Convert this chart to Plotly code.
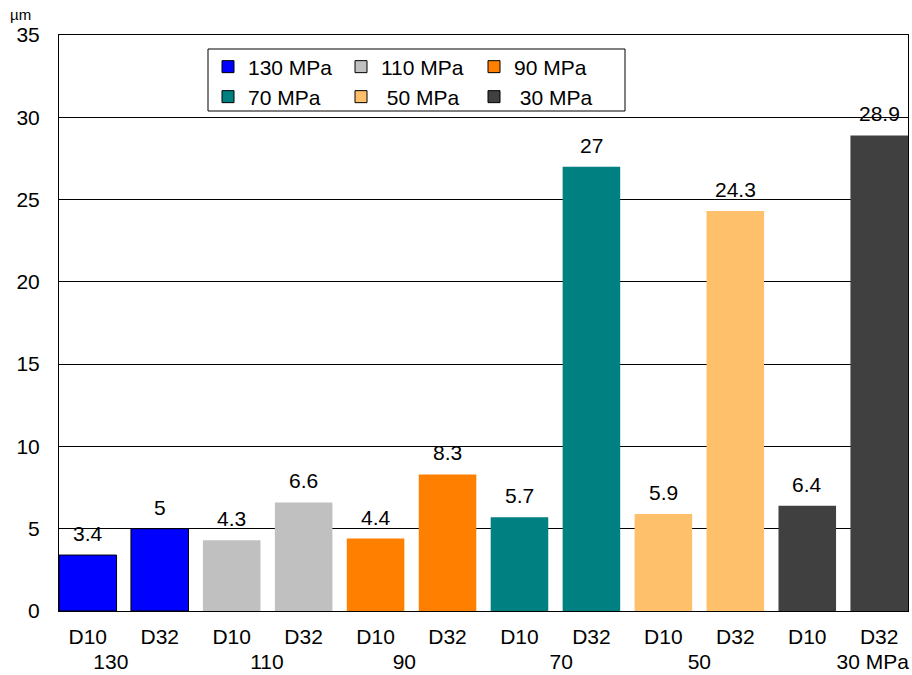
import plotly.graph_objects as go

pressures = ["130", "110", "90", "70", "50", "30 MPa"]
legend_names = ["130 MPa", "110 MPa", "90 MPa", "70 MPa", " 50 MPa", " 30 MPa"]
sizes = ["D10", "D32"]
d10 = [3.4, 4.3, 4.4, 5.7, 5.9, 6.4]
d32 = [5, 6.6, 8.3, 27, 24.3, 28.9]
colors = ["#0000FF", "#C0C0C0", "#FF8000", "#008080", "#FFC06C", "#404040"]
outline = [1, 0, 0, 0, 0, 0]

FS = 21
FONT = "Liberation Sans, Arial, sans-serif"

# second label row (pressure) positions: bar index of the group + label offset
group_label_bar = [0, 2, 4, 6, 8, 11]
group_label_offset = [0.32, 0.49, 0.40, 0.58, 0.50, -0.09]
group_tickvals = [b + o for b, o in zip(group_label_bar, group_label_offset)]

fig = go.Figure()
annotations = []
for i in range(len(pressures)):
    xs = [2 * i, 2 * i + 1]
    ys = [d10[i], d32[i]]
    fig.add_trace(go.Bar(
        x=xs, y=ys, width=0.8, name=legend_names[i],
        marker=dict(color=colors[i], line=dict(color="black", width=outline[i])),
        showlegend=False,
    ))
    for x, y in zip(xs, ys):
        annotations.append(dict(x=x, y=y, xref="x", yref="y", text=f"{y:g}",
                                showarrow=False, yanchor="bottom", yshift=8,
                                font=dict(size=FS, color="black", family=FONT)))

# legend entries (swatches with black outline, as in the reference legend)
for i in range(len(pressures)):
    fig.add_trace(go.Bar(
        x=[None], y=[None], name=legend_names[i],
        marker=dict(color=colors[i], line=dict(color="black", width=1)),
        legend="legend" if i < 3 else "legend2",
        showlegend=True,
    ))

# empty trace so the second (pressure) label axis is drawn
fig.add_trace(go.Scatter(x=[None], y=[None], xaxis="x2", yaxis="y",
                         showlegend=False, hoverinfo="skip"))

annotations.append(dict(x=-0.045, y=1.035, xref="paper", yref="paper", text="µm",
                        showarrow=False, xanchor="center", yanchor="middle",
                        font=dict(size=15, color="black", family=FONT)))

def px2x(px):
    return (px - 59) / 849.0

def py2y(py):
    return (611 - py) / 576.0

fig.update_layout(
    width=912, height=675,
    margin=dict(l=59, r=4, t=35, b=64, autoexpand=False),
    paper_bgcolor="white", plot_bgcolor="white",
    barmode="overlay",
    font=dict(family=FONT, size=FS, color="black"),
    xaxis=dict(range=[-0.4, 11.4], tickvals=list(range(12)), ticktext=sizes * 6,
               tickangle=0, showgrid=False, showline=True, linecolor="black",
               linewidth=1, mirror=True, ticks="", zeroline=False, automargin=False,
               ticklabelstandoff=7,
               tickfont=dict(size=FS, family=FONT, color="black")),
    xaxis2=dict(range=[-0.4, 11.4], overlaying="x", anchor="y", side="bottom",
                tickvals=group_tickvals, ticktext=pressures, tickangle=0,
                showgrid=False, showline=False, ticks="", zeroline=False,
                automargin=False, ticklabelstandoff=36,
                tickfont=dict(size=FS, family=FONT, color="black")),
    yaxis=dict(range=[0, 35], dtick=5, showgrid=True, gridcolor="black", gridwidth=1,
               showline=True, linecolor="black", linewidth=1, mirror=True, ticks="",
               zeroline=False, ticklabelstandoff=14, automargin=False,
               tickfont=dict(size=FS, family=FONT, color="black")),
    legend=dict(orientation="h", x=px2x(208), y=py2y(67), xanchor="left", yanchor="middle",
                entrywidth=88, entrywidthmode="pixels", bgcolor="rgba(0,0,0,0)",
                font=dict(size=FS, family=FONT, color="black"), itemclick=False),
    legend2=dict(orientation="h", x=px2x(208), y=py2y(97), xanchor="left", yanchor="middle",
                 entrywidth=88, entrywidthmode="pixels", bgcolor="rgba(0,0,0,0)",
                 font=dict(size=FS, family=FONT, color="black"), itemclick=False),
    shapes=[dict(type="rect", xref="paper", yref="paper",
                 x0=px2x(208), x1=px2x(625), y0=py2y(111), y1=py2y(49),
                 line=dict(color="black", width=1), fillcolor="white", layer="above")],
    annotations=annotations,
    showlegend=True,
)

fig.write_html("out.html")
